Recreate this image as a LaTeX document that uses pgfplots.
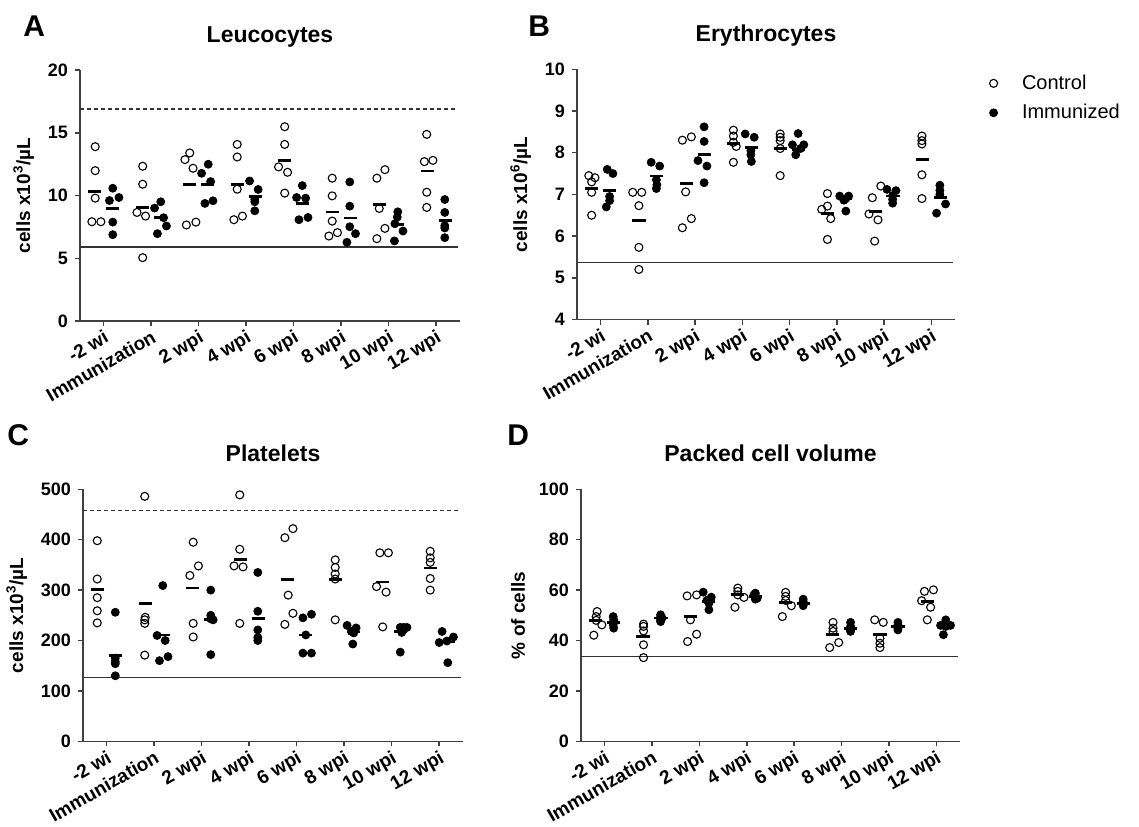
\documentclass[border=0pt]{standalone}
\usepackage{fontspec}
\setmainfont{Liberation Sans}
\usepackage{pgfplots}
\pgfplotsset{compat=1.18}
\pgfplotsset{
  ctrl/.style={only marks, color=black, mark=o, mark size=2pt, mark options={line width=0.55pt, draw=black, fill=white}},
  imm/.style={only marks, color=black, mark=*, mark size=2pt, mark options={draw=black, fill=black}},
  meanmark/.style={only marks, color=black, mark=-, mark size=3.3pt, mark options={line width=1.4pt}, forget plot},
  refline/.style={black!80, line width=0.65pt, forget plot},
  common/.style={
    scale only axis,
    axis x line*=bottom, axis y line*=left,
    axis line style={black!75, line width=0.75pt},
    tick style={black!75, line width=0.75pt},
    major tick length=2.5pt,
    tick align=outside,
    xmin=-0.5, xmax=7.5, xtick={0,...,7},
    xticklabels={-2 wi, Immunization, 2 wpi, 4 wpi, 6 wpi, 8 wpi, 10 wpi, 12 wpi},
    xticklabel style={rotate=30, anchor=north east, font=\fontsize{9.5}{10}\selectfont\bfseries, inner sep=1pt},
    yticklabel style={font=\fontsize{9}{10}\selectfont\bfseries},
    ylabel style={font=\fontsize{9.5}{10}\selectfont\bfseries},
    title style={font=\fontsize{11.5}{13}\selectfont\bfseries, anchor=base, yshift=8pt},
    /pgf/number format/assume math mode=true,
    clip=false,
  },
}
\begin{document}
\begin{tikzpicture}
\useasboundingbox (0,0) rectangle (569.5pt,413pt);
% ---------------- A ----------------
\begin{axis}[common, at={(40pt,252.5pt)}, anchor=south west, width=190pt, height=125.5pt,
  ymin=0, ymax=20, ytick={0,5,10,15,20}, title={Leucocytes},
  ylabel={cells x10\textsuperscript{3}/µL}]
\addplot[refline] coordinates {(-0.5,5.9) (7.45,5.9)};
\addplot[refline, dash pattern=on 2pt off 1.5pt] coordinates {(-0.5,16.9) (7.45,16.9)};
\addplot[ctrl] coordinates {
(-0.18,13.89) (-0.18,11.98) (-0.18,9.79) (-0.25,7.91) (-0.06,7.91)
(0.82,12.33) (0.82,10.9) (0.70,8.65) (0.88,8.36) (0.82,5.05)
(1.71,12.86) (1.81,13.39) (1.88,12.17) (1.74,7.65) (1.94,7.88)
(2.81,14.07) (2.81,13.07) (2.81,10.5) (2.74,8.07) (2.92,8.36)
(3.81,15.48) (3.81,14.07) (3.68,12.28) (3.87,11.85) (3.81,10.19)
(4.81,11.38) (4.81,9.97) (4.81,7.96) (4.74,6.77) (4.92,7.04)
(5.92,12.06) (5.75,11.38) (5.80,8.97) (5.92,7.38) (5.75,6.56)
(6.80,14.87) (6.75,12.7) (6.93,12.8) (6.80,10.26) (6.80,9.05)};
\addplot[imm] coordinates {
(0.19,10.58) (0.12,9.6) (0.32,9.84) (0.19,7.88) (0.19,6.88)
(1.2,9.5) (1.07,9.0) (1.26,8.23) (1.32,7.57) (1.13,6.96)
(2.2,12.49) (2.06,11.77) (2.25,11.11) (2.13,9.37) (2.30,9.58)
(3.07,11.16) (3.25,10.48) (3.18,9.7) (3.18,9.5) (3.18,8.78)
(4.18,10.79) (4.06,9.84) (4.25,9.79) (4.11,8.07) (4.30,8.25)
(5.18,11.08) (5.18,9.15) (5.18,7.51) (5.30,6.96) (5.12,6.27)
(6.19,8.7) (6.18,8.28) (6.13,7.75) (6.30,7.17) (6.12,6.38)
(7.18,9.68) (7.18,8.65) (7.18,7.59) (7.18,7.41) (7.18,6.64)};
\addplot[meanmark] coordinates {(-0.19,10.32) (0.81,9.07) (1.81,10.85) (2.81,10.87) (3.81,12.8) (4.81,8.68) (5.81,9.31) (6.81,11.96)};
\addplot[meanmark] coordinates {(0.19,8.94) (1.19,8.25) (2.19,10.85) (3.19,9.92) (4.19,9.39) (5.19,8.2) (6.19,7.67) (7.19,8.02)};
\end{axis}
% ---------------- B ----------------
\begin{axis}[common, at={(288.5pt,253.25pt)}, anchor=south west, width=189pt, height=125.1pt,
  ymin=4, ymax=10, ytick={4,5,...,10}, title={Erythrocytes},
  ylabel={cells x10\textsuperscript{6}/µL},
  legend style={at={(axis description cs:1.0905,0.885)}, anchor=west, draw=none, fill=none,
    font=\fontsize{10}{12}\selectfont, inner sep=0pt, row sep=2pt, cells={anchor=west}},
  legend image code/.code={\draw[#1] plot coordinates {(0pt,0pt)}; \path (12pt,0pt);}]
\addplot[refline] coordinates {(-0.5,5.37) (7.45,5.37)};
\addplot[ctrl] coordinates {
(-0.25,7.45) (-0.12,7.4) (-0.19,7.3) (-0.19,7.05) (-0.19,6.5)
(0.68,7.05) (0.87,7.05) (0.81,6.73) (0.81,5.73) (0.81,5.2)
(1.73,8.3) (1.92,8.38) (1.80,7.06) (1.92,6.42) (1.73,6.2)
(2.81,8.54) (2.81,8.4) (2.81,8.25) (2.87,8.15) (2.81,7.77)
(3.80,8.45) (3.80,8.37) (3.80,8.29) (3.80,8.1) (3.80,7.45)
(4.80,7.02) (4.68,6.64) (4.80,6.72) (4.87,6.42) (4.80,5.92)
(5.93,7.2) (5.75,6.92) (5.68,6.53) (5.87,6.39) (5.80,5.88)
(6.80,8.4) (6.80,8.29) (6.80,8.21) (6.80,7.47) (6.80,6.9)};
\addlegendentry{Control}
\addplot[imm] coordinates {
(0.14,7.6) (0.26,7.5) (0.19,6.95) (0.19,6.85) (0.12,6.7)
(1.07,7.77) (1.25,7.68) (1.18,7.35) (1.19,7.23) (1.18,7.14)
(2.19,8.62) (2.19,8.27) (2.06,7.81) (2.25,7.68) (2.19,7.28)
(3.06,8.45) (3.25,8.37) (3.18,8.05) (3.18,7.95) (3.19,7.79)
(4.18,8.46) (4.06,8.19) (4.30,8.19) (4.13,7.95) (4.23,8.1)
(5.06,6.96) (5.25,6.96) (5.15,6.86) (5.19,6.9) (5.19,6.6)
(6.06,7.12) (6.25,7.09) (6.18,6.97) (6.18,6.88) (6.18,6.79)
(7.18,7.22) (7.18,7.1) (7.18,7.0) (7.30,6.77) (7.11,6.55)};
\addlegendentry{Immunized}
\addplot[meanmark] coordinates {(-0.19,7.15) (0.81,6.38) (1.81,7.27) (2.81,8.22) (3.81,8.11) (4.81,6.55) (5.81,6.59) (6.81,7.84)};
\addplot[meanmark] coordinates {(0.19,7.1) (1.19,7.44) (2.19,7.95) (3.19,8.13) (4.19,8.08) (5.19,6.9) (6.19,6.96) (7.19,6.93)};
\end{axis}
% ---------------- C ----------------
\begin{axis}[common, at={(41.5pt,42.35pt)}, anchor=south west, width=190pt, height=126pt,
  ymin=0, ymax=500, ytick={0,100,...,500}, title={Platelets},
  ylabel={cells x10\textsuperscript{3}/µL}]
\addplot[refline] coordinates {(-0.5,126) (7.45,126)};
\addplot[refline, dash pattern=on 2pt off 1.5pt] coordinates {(-0.5,458) (7.45,458)};
\addplot[ctrl] coordinates {
(-0.2,398) (-0.2,322) (-0.2,285) (-0.2,259) (-0.2,235)
(0.8,486) (0.81,246) (0.8,241) (0.8,234) (0.8,171)
(1.82,395) (1.93,348) (1.75,329) (1.82,234) (1.82,207)
(2.8,489) (2.8,381) (2.68,348) (2.87,346) (2.8,234)
(3.75,404) (3.92,422) (3.82,290) (3.92,254) (3.75,232)
(4.81,360) (4.81,345) (4.81,332) (4.81,322) (4.81,241)
(5.75,374) (5.93,374) (5.68,307) (5.88,296) (5.81,227)
(6.81,377) (6.81,364) (6.81,355) (6.81,323) (6.81,300)};
\addplot[imm] coordinates {
(0.18,256) (0.18,165) (0.18,158) (0.18,154) (0.18,130)
(1.18,309) (1.06,210) (1.23,200) (1.11,160) (1.29,168)
(2.19,300) (2.19,250) (2.19,243) (2.24,241) (2.19,172)
(3.18,335) (3.18,258) (3.18,221) (3.18,206) (3.18,200)
(4.13,245) (4.31,252) (4.19,211) (4.13,175) (4.31,175)
(5.06,230) (5.25,225) (5.2,215) (5.18,193) (5.15,218)
(6.25,226) (6.32,226) (6.18,226) (6.21,216) (6.18,177)
(7.06,218) (7.16,199) (7.30,207) (7.0,196) (7.18,156)};
\addplot[meanmark] coordinates {(-0.19,301) (0.81,274) (1.81,304) (2.81,360) (3.81,321) (4.81,321) (5.81,316) (6.81,344)};
\addplot[meanmark] coordinates {(0.19,171) (1.19,211) (2.19,242) (3.19,244) (4.19,211) (5.19,217) (6.19,218) (7.19,197)};
\end{axis}
% ---------------- D ----------------
\begin{axis}[common, at={(290.5pt,42.35pt)}, anchor=south west, width=189.5pt, height=126pt,
  ymin=0, ymax=100, ytick={0,20,...,100}, title={Packed cell volume},
  ylabel={\% of cells}]
\addplot[refline] coordinates {(-0.5,33.6) (7.45,33.6)};
\addplot[ctrl] coordinates {
(-0.16,51.5) (-0.18,49.5) (-0.18,48) (-0.06,46.2) (-0.23,42.1)
(0.82,46.5) (0.82,45.6) (0.82,43.8) (0.82,38.3) (0.82,33.2)
(1.74,57.7) (1.94,58.1) (1.81,48.2) (1.94,42.5) (1.75,39.6)
(2.81,60.8) (2.81,59.5) (2.81,58.1) (2.94,57.1) (2.75,53.2)
(3.82,59.1) (3.82,57.5) (3.82,55.9) (3.94,53.8) (3.75,49.5)
(4.82,47.2) (4.82,44.9) (4.82,43.6) (4.94,39.2) (4.75,37.2)
(5.70,48.2) (5.88,47.2) (5.81,40.9) (5.81,38.9) (5.81,37.2)
(6.75,59.5) (6.94,60.1) (6.69,55.8) (6.88,53.2) (6.81,48.2)};
\addplot[imm] coordinates {
(0.18,49.5) (0.19,48.2) (0.18,47.2) (0.18,46.2) (0.19,44.9)
(1.18,50.2) (1.18,49.3) (1.21,48.9) (1.18,48.2) (1.18,47.5)
(2.08,59.2) (2.25,57.2) (2.16,56) (2.2,54.8) (2.2,52.2)
(3.18,58.8) (3.15,58.1) (3.18,57.5) (3.22,56.8) (3.18,56.4)
(4.19,56.4) (4.19,55.5) (4.19,55.1) (4.19,54.6) (4.19,53.8)
(5.19,47.2) (5.19,45.6) (5.19,44.9) (5.19,44.2) (5.19,43.6)
(6.19,47.2) (6.19,46.2) (6.19,45.6) (6.19,44.9) (6.19,44.2)
(7.2,48.2) (7.09,46) (7.3,46) (7.2,45.6) (7.15,42.3)};
\addplot[meanmark] coordinates {(-0.19,47.8) (0.81,41.6) (1.81,49.5) (2.81,58.1) (3.81,55.1) (4.81,42.3) (5.81,42.3) (6.81,55.5)};
\addplot[meanmark] coordinates {(0.19,47.2) (1.19,48.9) (2.19,55.5) (3.19,57.5) (4.19,54.8) (5.19,44.9) (6.19,45.6) (7.19,45.8)};
\end{axis}
% panel letters
\node[anchor=base west, inner sep=0pt, font=\fontsize{15}{18}\selectfont\bfseries] at (11.5pt,394.5pt) {A};
\node[anchor=base west, inner sep=0pt, font=\fontsize{15}{18}\selectfont\bfseries] at (264pt,394.5pt) {B};
\node[anchor=base west, inner sep=0pt, font=\fontsize{15}{18}\selectfont\bfseries] at (3.5pt,190.5pt) {C};
\node[anchor=base west, inner sep=0pt, font=\fontsize{15}{18}\selectfont\bfseries] at (253.5pt,190.5pt) {D};
\end{tikzpicture}
\end{document}
